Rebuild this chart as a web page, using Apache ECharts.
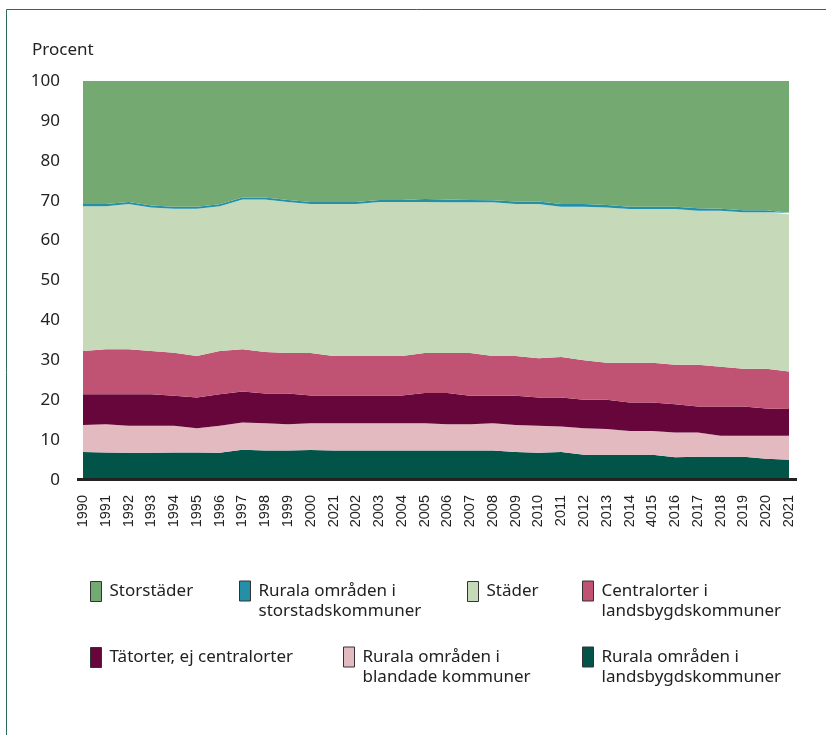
<!DOCTYPE html>
<html>
<head>
<meta charset="utf-8">
<script src="https://cdn.jsdelivr.net/npm/echarts@6/dist/echarts.min.js"></script>
<style>
html,body{margin:0;padding:0;background:#fff;}
#chart{width:826px;height:735px;}
</style>
</head>
<body>
<div id="chart"></div>
<script>
// Tick labels on the category axis (as printed in the source)
const years = ['1990','1991','1992','1993','1994','1995','1996','1997','1998','1999','2000','2021','2002','2003','2004','2005','2006','2007','2008','2009','2010','2011','2012','2013','2014','4015','2016','2017','2018','2019','2020','2021'];

// Series values (percent)
const ruralaLandsbygd = [7.0,6.9,6.8,6.8,6.9,6.9,6.8,7.6,7.4,7.4,7.5,7.4,7.4,7.4,7.4,7.4,7.4,7.4,7.4,7.0,6.8,7.0,6.3,6.3,6.3,6.3,5.7,5.8,5.8,5.8,5.3,5.1];
const ruralaBlandade  = [6.8,7.1,6.8,6.8,6.7,6.1,6.8,6.8,6.8,6.6,6.7,6.8,6.8,6.8,6.8,6.8,6.6,6.6,6.8,6.8,6.8,6.4,6.7,6.5,6.0,6.0,6.2,6.1,5.3,5.3,5.8,6.0];
const tatorter        = [7.7,7.5,7.9,7.9,7.5,7.7,7.9,7.8,7.5,7.7,7.0,7.0,7.0,7.0,7.0,7.6,7.8,7.1,6.9,7.3,7.1,7.3,7.1,7.3,7.1,7.1,7.1,6.5,7.3,7.3,6.8,6.7];
const centralorter    = [10.8,11.3,11.3,10.8,10.8,10.4,10.8,10.6,10.4,10.1,10.6,9.9,9.9,9.9,9.9,10.0,10.0,10.7,10.0,10.0,9.8,10.1,9.9,9.3,10.0,10.0,9.9,10.5,10.0,9.5,10.0,9.4];
const stader          = [36.3,35.8,36.4,36.0,36.1,36.9,36.3,37.5,38.2,37.9,37.4,38.1,38.1,38.6,38.6,37.9,37.8,37.8,38.5,38.1,38.7,37.7,38.5,38.9,38.5,38.5,39.0,38.6,39.1,39.2,39.2,39.4];
const ruralaStorstad  = [0.6,0.6,0.5,0.5,0.5,0.5,0.5,0.5,0.5,0.5,0.5,0.5,0.5,0.5,0.5,0.7,0.7,0.6,0.5,0.6,0.6,0.7,0.7,0.6,0.6,0.6,0.6,0.6,0.5,0.5,0.5,0.4];
const storstader      = [30.8,30.8,30.3,31.2,31.5,31.5,30.9,29.2,29.2,29.8,30.3,30.3,30.3,29.8,29.8,29.6,29.7,29.8,29.9,30.2,30.2,30.8,30.8,31.1,31.5,31.5,31.5,31.9,32.0,32.4,32.4,33.0];

const yTicks = [0,10,20,30,40,50,60,70,80,90,100];

const names = {
  s1: 'Storstäder',
  s2: 'Rurala områden i storstadskommuner',
  s3: 'Städer',
  s4: 'Centralorter i landsbygdskommuner',
  s5: 'Tätorter, ej centralorter',
  s6: 'Rurala områden i blandade kommuner',
  s7: 'Rurala områden i landsbygdskommuner'
};
const labels = {
  s1: 'Storstäder',
  s2: 'Rurala områden i\nstorstadskommuner',
  s3: 'Städer',
  s4: 'Centralorter i\nlandsbygdskommuner',
  s5: 'Tätorter, ej centralorter',
  s6: 'Rurala områden i\nblandade kommuner',
  s7: 'Rurala områden i\nlandsbygdskommuner'
};
const colors = {
  s1: '#74a971', s2: '#2390a8', s3: '#c6d9b9', s4: '#c05373',
  s5: '#66063a', s6: '#e4bac1', s7: '#015447'
};

const FONT = '"Noto Sans", "Open Sans", sans-serif';
const chart = echarts.init(document.getElementById('chart'), null, {renderer: 'canvas'});

function areaSeries(key, data) {
  return {
    name: names[key], type: 'line', stack: 'total', data: data,
    symbol: 'none', showSymbol: false,
    lineStyle: {width: 0},
    areaStyle: {color: colors[key], opacity: 1},
    itemStyle: {color: colors[key]},
    emphasis: {disabled: true}
  };
}

function legendItem(key, left, top) {
  const twoLines = labels[key].indexOf('\n') >= 0;
  // a leading blank line keeps the first text line level with the icon
  const text = twoLines ? '\n' + labels[key] : labels[key];
  return {
    show: true, left: left, top: twoLines ? top - 20 : top, padding: 0, orient: 'horizontal',
    itemWidth: 11, itemHeight: 20, selectedMode: false,
    icon: 'rect',
    itemStyle: {borderColor: '#333', borderWidth: 1},
    data: [names[key]],
    formatter: function () { return text; },
    textStyle: {
      fontFamily: FONT, fontSize: 17, color: '#222', lineHeight: 20,
      padding: [0, 0, 0, 3]
    }
  };
}

const option = {
  animation: false,
  backgroundColor: '#fff',
  grid: {left: 83, right: 37, top: 81, bottom: 255, containLabel: false},
  xAxis: {
    type: 'category', data: years, boundaryGap: false,
    axisLine: {show: false}, axisTick: {show: false}, splitLine: {show: false},
    axisLabel: {
      interval: 0, rotate: 90, margin: 15, color: '#222',
      fontFamily: '"Liberation Sans", Arial, sans-serif', fontSize: 14.5
    }
  },
  yAxis: {
    type: 'value', min: yTicks[0], max: yTicks[yTicks.length - 1], interval: 10,
    axisLine: {show: false}, axisTick: {show: false}, splitLine: {show: false},
    axisLabel: {margin: 23, color: '#222', fontFamily: FONT, fontSize: 17}
  },
  legend: [
    legendItem('s1', 90, 581),
    legendItem('s2', 239, 581),
    legendItem('s3', 467, 581),
    legendItem('s4', 582, 581),
    legendItem('s5', 90, 647),
    legendItem('s6', 343, 647),
    legendItem('s7', 582, 647)
  ],
  graphic: [
    {type: 'line', shape: {x1: 6.5, y1: 9.5, x2: 826, y2: 9.5}, style: {stroke: '#2e6b5c', lineWidth: 1}, silent: true},
    {type: 'line', shape: {x1: 6.5, y1: 9.5, x2: 6.5, y2: 735}, style: {stroke: '#2e6b5c', lineWidth: 1}, silent: true},
    {type: 'line', shape: {x1: 77, y1: 479.5, x2: 797, y2: 479.5}, style: {stroke: '#222', lineWidth: 3}, silent: true, z: 100},
    {type: 'text', left: 32, top: 42, style: {text: 'Procent', font: '17px "Noto Sans", sans-serif', fill: '#222'}, silent: true}
  ],
  series: [
    areaSeries('s7', ruralaLandsbygd),
    areaSeries('s6', ruralaBlandade),
    areaSeries('s5', tatorter),
    areaSeries('s4', centralorter),
    areaSeries('s3', stader),
    areaSeries('s2', ruralaStorstad),
    areaSeries('s1', storstader)
  ]
};
chart.setOption(option);
</script>
</body>
</html>
